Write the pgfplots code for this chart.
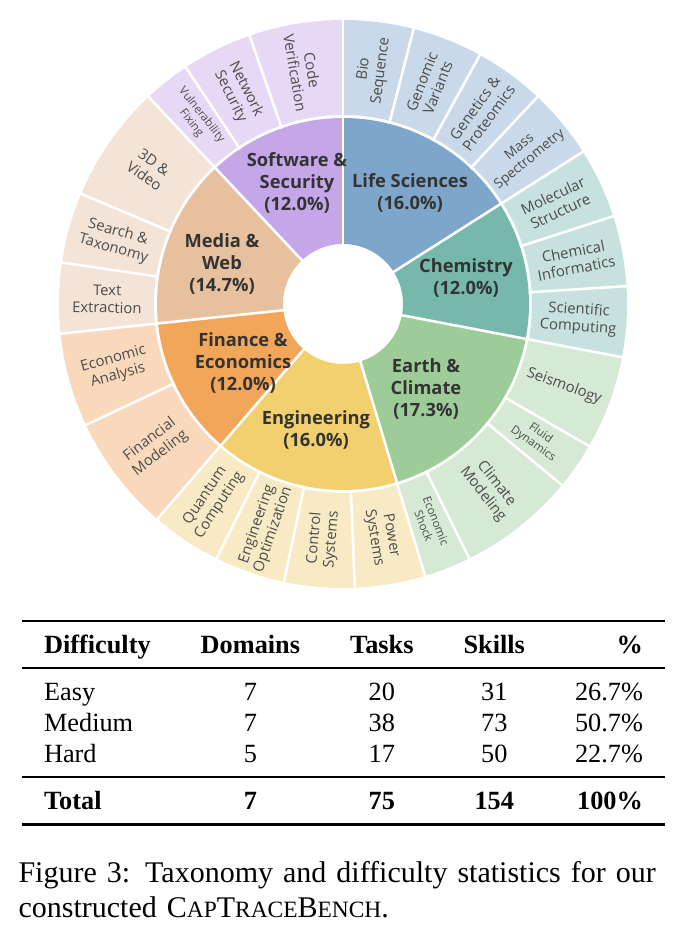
\documentclass[border=0pt]{standalone}
\usepackage{pgfplots}
\pgfplotsset{compat=1.18}
\usepackage{fontspec}
\usepackage{booktabs}
\setmainfont{Liberation Serif}
\newfontfamily\chartfont{Open Sans}

\definecolor{lsA}{RGB}{126,166,203}\definecolor{lsB}{RGB}{201,217,233}
\definecolor{chA}{RGB}{118,184,171}\definecolor{chB}{RGB}{199,226,222}
\definecolor{ecA}{RGB}{157,204,153}\definecolor{ecB}{RGB}{214,233,212}
\definecolor{enA}{RGB}{242,208,110}\definecolor{enB}{RGB}{248,234,196}
\definecolor{fiA}{RGB}{242,166,90}\definecolor{fiB}{RGB}{250,216,188}
\definecolor{mwA}{RGB}{231,192,158}\definecolor{mwB}{RGB}{244,228,215}
\definecolor{ssA}{RGB}{197,166,232}\definecolor{ssB}{RGB}{231,217,245}
\definecolor{txA}{RGB}{51,51,51}\definecolor{txB}{RGB}{77,77,77}

% inner wedge: from angle #1 to #2 (deg), colour #3
\newcommand{\innerwedge}[3]{\addplot[draw=#3, line width=44.1pt, data cs=polar, domain=#1:#2, samples=40, mark=none] ({x},{123});}
\newcommand{\outerwedge}[3]{\addplot[draw=#3, line width=33.25pt, data cs=polar, domain=#1:#2, samples=30, mark=none] ({x},{236.5});}
\newcommand{\bigsep}[1]{\addplot[white, line width=0.9pt, data cs=polar, mark=none] coordinates {(#1,56) (#1,288)};}
\newcommand{\smallsep}[1]{\addplot[white, line width=0.9pt, data cs=polar, mark=none] coordinates {(#1,186) (#1,288)};}

\begin{document}
\begin{tikzpicture}[x=0.35pt,y=0.35pt]
\path[use as bounding box] (-343,-638) rectangle (343,304);
\begin{axis}[at={(0,0)}, anchor=origin, x=0.35pt, y=0.35pt, scale only axis,
  hide axis, clip=false, xmin=-290, xmax=290, ymin=-290, ymax=290]
% inner ring: domains (start, end angle; 1 task = 4.8 deg)
\innerwedge{32.4}{90}{lsA}
\innerwedge{-10.8}{32.4}{chA}
\innerwedge{-73.2}{-10.8}{ecA}
\innerwedge{-130.8}{-73.2}{enA}
\innerwedge{-174}{-130.8}{fiA}
\innerwedge{-226.8}{-174}{mwA}
\innerwedge{90}{133.2}{ssA}
% outer ring: sub-categories
\outerwedge{75.6}{90}{lsB}
\outerwedge{61.2}{75.6}{lsB}
\outerwedge{46.8}{61.2}{lsB}
\outerwedge{32.4}{46.8}{lsB}
\outerwedge{18}{32.4}{chB}
\outerwedge{3.6}{18}{chB}
\outerwedge{-10.8}{3.6}{chB}
\outerwedge{-30}{-10.8}{ecB}
\outerwedge{-39.6}{-30}{ecB}
\outerwedge{-63.6}{-39.6}{ecB}
\outerwedge{-73.2}{-63.6}{ecB}
\outerwedge{-87.6}{-73.2}{enB}
\outerwedge{-102}{-87.6}{enB}
\outerwedge{-116.4}{-102}{enB}
\outerwedge{-130.8}{-116.4}{enB}
\outerwedge{-154.8}{-130.8}{fiB}
\outerwedge{-174}{-154.8}{fiB}
\outerwedge{-188.4}{-174}{mwB}
\outerwedge{-202.8}{-188.4}{mwB}
\outerwedge{-226.8}{-202.8}{mwB}
\outerwedge{123.6}{133.2}{ssB}
\outerwedge{109.2}{123.6}{ssB}
\outerwedge{90}{109.2}{ssB}
% separators
\bigsep{90}\bigsep{32.4}\bigsep{-10.8}\bigsep{-73.2}\bigsep{-130.8}\bigsep{-174}\bigsep{133.2}
\smallsep{75.6}\smallsep{61.2}\smallsep{46.8}\smallsep{18}\smallsep{3.6}
\smallsep{-30}\smallsep{-39.6}\smallsep{-63.6}\smallsep{-87.6}\smallsep{-102}\smallsep{-116.4}
\smallsep{-154.8}\smallsep{-188.4}\smallsep{-202.8}\smallsep{123.6}\smallsep{109.2}
\end{axis}

% inner labels
\tikzset{inl/.style={align=center, text=txA, font=\chartfont\bfseries\fontsize{6.4}{7.7}\selectfont},
  outl/.style={align=center, text=txB, font=\chartfont\fontsize{5.2}{6}\selectfont},
  sml/.style={align=center, text=txB, font=\chartfont\fontsize{4}{4.6}\selectfont}}
\node[inl] at (67,111) {Life Sciences\\(16.0\%)};
\node[inl] at (123,26) {Chemistry\\(12.0\%)};
\node[inl] at (83,-85) {Earth \&\\Climate\\(17.3\%)};
\node[inl] at (-27,-126) {Engineering\\(16.0\%)};
\node[inl] at (-100,-59) {Finance \&\\Economics\\(12.0\%)};
\node[inl] at (-121,40) {Media \&\\Web\\(14.7\%)};
\node[inl] at (-46,121) {Software \&\\Security\\(12.0\%)};

% outer labels
\node[outl, rotate=82.8] at (82.8:236) {Bio\\Sequence};
\node[outl, rotate=68.4] at (68.4:236) {Genomic\\Variants};
\node[outl, rotate=54] at (54:236) {Genetics \&\\Proteomics};
\node[outl, rotate=39.6, font=\chartfont\fontsize{4.8}{5.6}\selectfont] at (39.6:236) {Mass\\Spectrometry};
\node[outl, rotate=25.2] at (25.2:236) {Molecular\\Structure};
\node[outl, rotate=10.8] at (10.8:236) {Chemical\\Informatics};
\node[outl, rotate=-3.6] at (-3.6:236) {Scientific\\Computing};
\node[outl, rotate=-20.4] at (-20.4:236) {Seismology};
\node[sml, rotate=-34.8] at (-34.8:236) {Fluid\\Dynamics};
\node[outl, rotate=-51.6] at (-51.6:236) {Climate\\Modeling};
\node[sml, rotate=-68.4] at (-68.4:236) {Economic\\Shock};
\node[outl, rotate=-80.4] at (-80.4:236) {Power\\Systems};
\node[outl, rotate=85.2] at (-94.8:236) {Control\\Systems};
\node[outl, rotate=70.8] at (-109.2:236) {Engineering\\Optimization};
\node[outl, rotate=56.4] at (-123.6:236) {Quantum\\Computing};
\node[outl, rotate=37.2] at (-142.8:236) {Financial\\Modeling};
\node[outl, rotate=15.6] at (-164.4:236) {Economic\\Analysis};
\node[outl, rotate=-1.2] at (-181.2:236) {Text\\Extraction};
\node[outl, rotate=-15.6] at (-195.6:236) {Search \&\\Taxonomy};
\node[outl, rotate=-34.8] at (-214.8:236) {3D \&\\Video};
\node[sml, rotate=-51.6] at (128.4:236) {Vulnerability\\Fixing};
\node[outl, rotate=-63.6] at (116.4:236) {Network\\Security};
\node[outl, rotate=-80.4] at (99.6:236) {Code\\Verification};

% table
\node[anchor=north, inner sep=0pt] at (0.5,-315) {%
\fontsize{9.2}{10.9}\selectfont
\setlength{\tabcolsep}{7.7pt}%
\setlength{\heavyrulewidth}{1pt}\setlength{\lightrulewidth}{0.6pt}%
\setlength{\aboverulesep}{1.5pt}\setlength{\belowrulesep}{3.3pt}%
\begin{tabular*}{225pt}{@{\hspace{7.7pt}\extracolsep{\fill}}lcccr}
\toprule
\textbf{Difficulty} & \textbf{Domains} & \textbf{Tasks} & \textbf{Skills} & \textbf{\%}\\
\midrule
Easy & 7 & 20 & 31 & 26.7\%\\
Medium & 7 & 38 & 73 & 50.7\%\\
Hard & 5 & 17 & 50 & 22.7\%\\
\midrule
\textbf{Total} & \textbf{7} & \textbf{75} & \textbf{154} & \textbf{100\%}\\
\bottomrule
\end{tabular*}};

% caption
\node[anchor=base west, inner sep=0pt, text width=227.5pt, align=left,
  font=\fontsize{10.5}{12.25}\selectfont] at (-325,-578)
  {\makebox[227.5pt][s]{Figure 3: Taxonomy and difficulty statistics for our}\\
   constructed C{\fontsize{8.2}{10}\selectfont AP}T{\fontsize{8.2}{10}\selectfont RACE}B{\fontsize{8.2}{10}\selectfont ENCH}.};
\end{tikzpicture}
\end{document}
